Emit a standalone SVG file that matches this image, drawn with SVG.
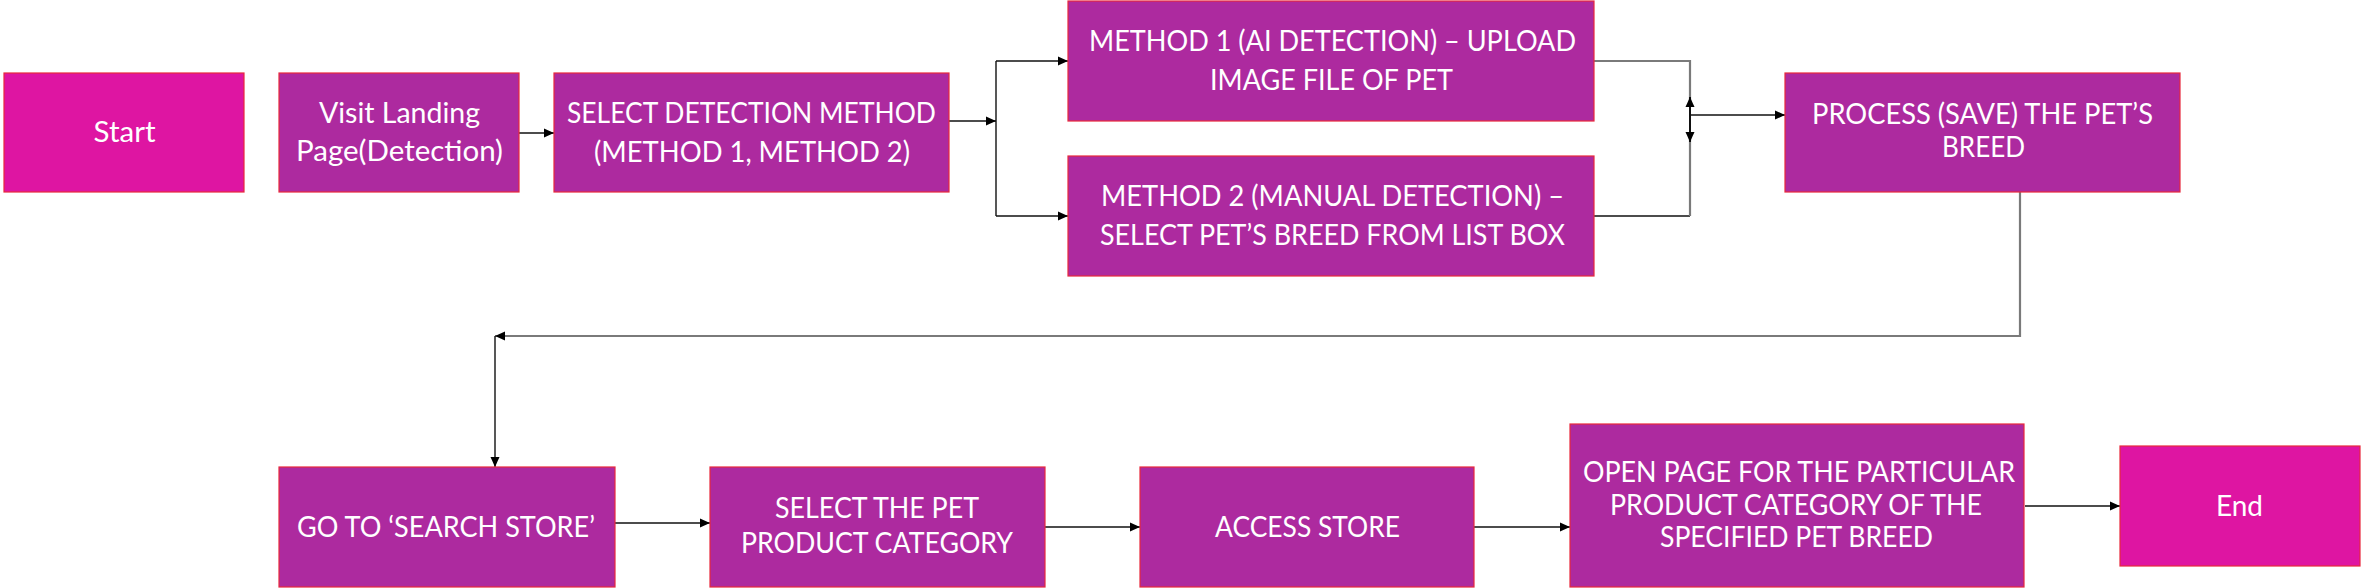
<svg xmlns="http://www.w3.org/2000/svg" width="2364" height="588" viewBox="0 0 2364 588">
<style>
.term{fill:#DE15A2;stroke:#E8283C;stroke-width:1.2}
.proc{fill:#AD2A9F;stroke:#E8283C;stroke-width:1.2}
.lbl{font-family:Lato,"Open Sans","Liberation Sans",sans-serif;font-size:28px;fill:#FFFFFF}
.blk{fill:none;stroke:#111111;stroke-width:1.4}
.gry{fill:none;stroke:#7A7A7A;stroke-width:2.2}
</style>
<defs>
<marker id="ah" markerUnits="userSpaceOnUse" markerWidth="11" markerHeight="10" refX="10" refY="5" orient="auto">
<path d="M0,0.5 L10,5 L0,9.5 Z" fill="#000000"/>
</marker>
</defs>
<rect width="2364" height="588" fill="#FFFFFF"/>
<g id="connectors">
<path class="blk" d="M519,133 H554" marker-end="url(#ah)"/>
<path class="blk" d="M949,121 H996" marker-end="url(#ah)"/>
<path class="blk" d="M996,61 V216"/>
<path class="blk" d="M996,61 H1068" marker-end="url(#ah)"/>
<path class="blk" d="M996,216 H1068" marker-end="url(#ah)"/>
<path class="gry" d="M1594,61 H1690 V106"/>
<path class="blk" d="M1594,216 H1690"/>
<path class="gry" d="M1690,216 V133"/>
<path class="blk" d="M1690,115 V97" marker-end="url(#ah)" style="stroke-width:2"/>
<path class="blk" d="M1690,115 V142" marker-end="url(#ah)" style="stroke-width:2"/>
<path class="blk" d="M1690,115 H1785" marker-end="url(#ah)"/>
<path class="gry" d="M2020,192 V336 H495" marker-end="url(#ah)"/>
<path class="blk" d="M495,336 V467" marker-end="url(#ah)"/>
<path class="blk" d="M615,523 H710" marker-end="url(#ah)"/>
<path class="blk" d="M1045,527 H1140" marker-end="url(#ah)"/>
<path class="blk" d="M1474,527 H1570" marker-end="url(#ah)"/>
<path class="blk" d="M2025,506 H2120" marker-end="url(#ah)"/>
</g>
<g id="start">
<rect class="term" x="4" y="73" width="240" height="119"/>
<text class="lbl" x="93.6" y="142" textLength="62" lengthAdjust="spacingAndGlyphs">Start</text>
</g>
<g id="visit">
<rect class="proc" x="279" y="73" width="240" height="119"/>
<text class="lbl" x="319" y="123" textLength="161" lengthAdjust="spacingAndGlyphs">Visit Landing</text>
<text class="lbl" x="296" y="160.5" textLength="207" lengthAdjust="spacingAndGlyphs">Page(Detection)</text>
</g>
<g id="select-method">
<rect class="proc" x="554" y="73" width="395" height="119"/>
<text class="lbl" x="567" y="123" textLength="369" lengthAdjust="spacingAndGlyphs">SELECT DETECTION METHOD</text>
<text class="lbl" x="594" y="162" textLength="316" lengthAdjust="spacingAndGlyphs">(METHOD 1, METHOD 2)</text>
</g>
<g id="method1">
<rect class="proc" x="1068" y="1" width="526" height="120"/>
<text class="lbl" x="1089" y="51" textLength="487" lengthAdjust="spacingAndGlyphs">METHOD 1 (AI DETECTION) – UPLOAD</text>
<text class="lbl" x="1210" y="90" textLength="243" lengthAdjust="spacingAndGlyphs">IMAGE FILE OF PET</text>
</g>
<g id="method2">
<rect class="proc" x="1068" y="156" width="526" height="120"/>
<text class="lbl" x="1101" y="205.5" textLength="463" lengthAdjust="spacingAndGlyphs">METHOD 2 (MANUAL DETECTION) –</text>
<text class="lbl" x="1100" y="245" textLength="465" lengthAdjust="spacingAndGlyphs">SELECT PET’S BREED FROM LIST BOX</text>
</g>
<g id="process">
<rect class="proc" x="1785" y="73" width="395" height="119"/>
<text class="lbl" x="1812" y="123.5" textLength="341" lengthAdjust="spacingAndGlyphs">PROCESS (SAVE) THE PET’S</text>
<text class="lbl" x="1942" y="157" textLength="83" lengthAdjust="spacingAndGlyphs">BREED</text>
</g>
<g id="goto">
<rect class="proc" x="279" y="467" width="336" height="120"/>
<text class="lbl" x="297" y="537" textLength="298" lengthAdjust="spacingAndGlyphs">GO TO ‘SEARCH STORE’</text>
</g>
<g id="select-category">
<rect class="proc" x="710" y="467" width="335" height="120"/>
<text class="lbl" x="775" y="518" textLength="204" lengthAdjust="spacingAndGlyphs">SELECT THE PET</text>
<text class="lbl" x="741" y="553" textLength="272" lengthAdjust="spacingAndGlyphs">PRODUCT CATEGORY</text>
</g>
<g id="access">
<rect class="proc" x="1140" y="467" width="334" height="120"/>
<text class="lbl" x="1215" y="536.5" textLength="185" lengthAdjust="spacingAndGlyphs">ACCESS STORE</text>
</g>
<g id="open-page">
<rect class="proc" x="1570" y="424" width="454" height="163"/>
<text class="lbl" x="1583" y="482" textLength="432" lengthAdjust="spacingAndGlyphs">OPEN PAGE FOR THE PARTICULAR</text>
<text class="lbl" x="1610" y="514.5" textLength="372" lengthAdjust="spacingAndGlyphs">PRODUCT CATEGORY OF THE</text>
<text class="lbl" x="1660" y="547" textLength="273" lengthAdjust="spacingAndGlyphs">SPECIFIED PET BREED</text>
</g>
<g id="end">
<rect class="term" x="2120" y="446" width="240" height="120"/>
<text class="lbl" x="2216" y="515.5" textLength="47" lengthAdjust="spacingAndGlyphs">End</text>
</g>
</svg>
